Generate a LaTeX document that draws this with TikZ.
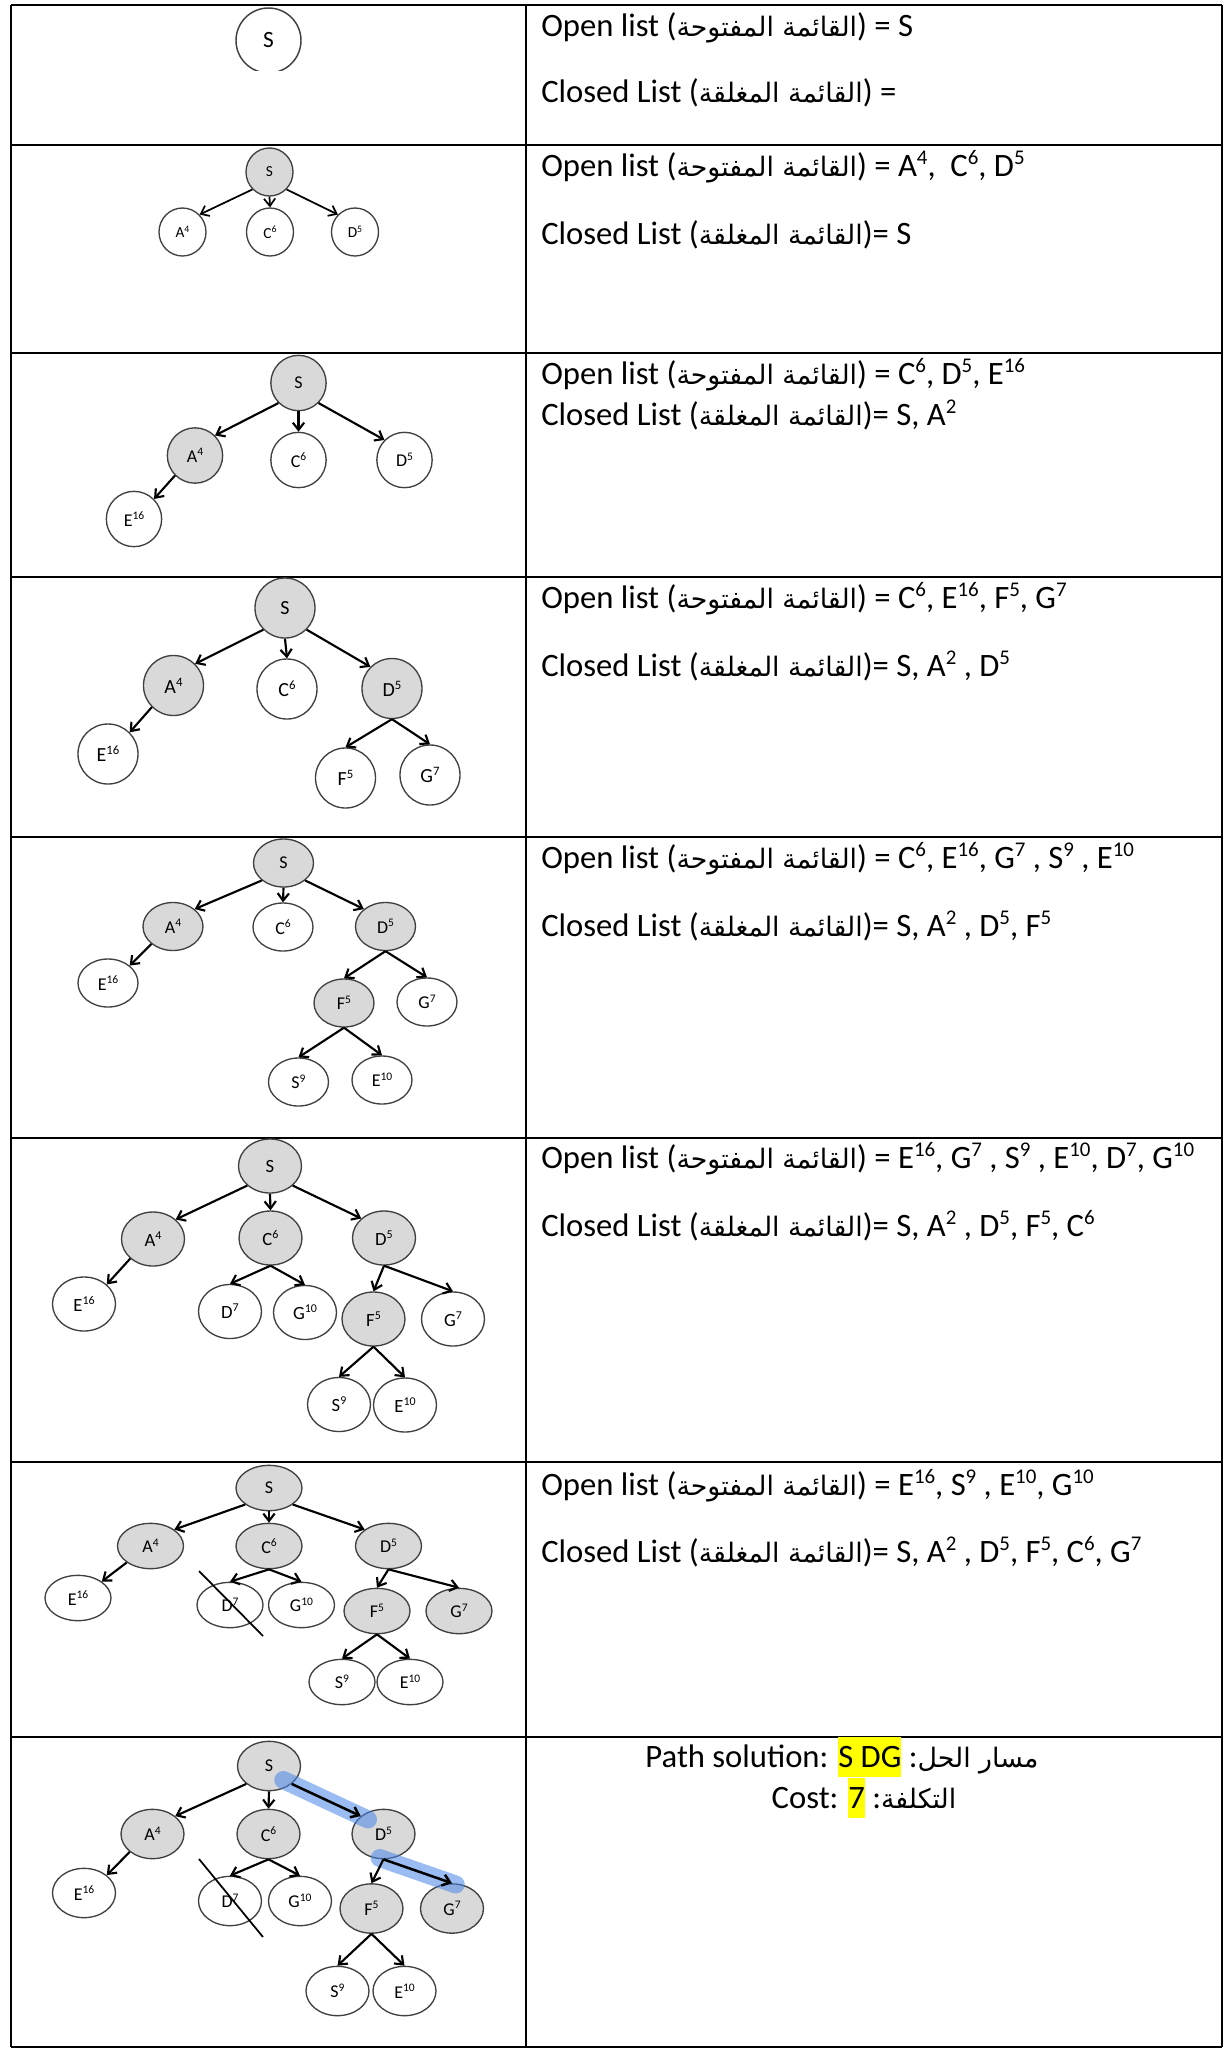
\documentclass[tikz,border=0pt]{standalone}
\usepackage{fontspec}
\usepackage{graphicx}
\setmainfont{Carlito}
\newfontfamily\arabicfont[Script=Arabic,Scale=0.82]{DejaVu Sans}
\TeXXeTstate=1
\usetikzlibrary{shapes.geometric,arrows.meta}
\definecolor{nodegray}{HTML}{D9D9D9}
\definecolor{nodeline}{HTML}{404040}
\definecolor{bandblue}{HTML}{4A86E8}
\definecolor{hlyellow}{HTML}{FFFF00}
\newcommand{\maintext}{\fontsize{24.5pt}{29pt}\selectfont}
\newcommand{\nf}[1]{\fontsize{#1}{#1}\selectfont}
\newcommand{\openlbl}{Open list ({\arabicfont\beginR القائمة المفتوحة\endR})}
\newcommand{\closedlbl}{Closed List ({\arabicfont\beginR القائمة المغلقة\endR})}
\newcommand{\hlbox}[1]{{\setlength{\fboxsep}{0pt}\colorbox{hlyellow}{\rule[-0.31em]{0pt}{1.24em}#1}}}
\newcommand{\sps}[1]{\raisebox{0.36em}{\scalebox{0.64}{#1}}}
\begin{document}
\begin{tikzpicture}[x=0.75pt,y=-0.75pt,
  nd/.style={ellipse,draw=nodeline,line width=1pt,inner sep=0pt,fill=white},
  gn/.style={nd,fill=nodegray},
  arr/.style={-{Straight Barb[length=5.5pt,width=8.5pt]},line width=1.6pt},
  txt/.style={anchor=base west,inner sep=0pt,font=\maintext},
  ctxt/.style={anchor=base,inner sep=0pt,font=\maintext},
  tbl/.style={line width=2pt},
  band/.style={line width=13.5pt,line cap=round,draw=bandblue,draw opacity=0.55},
  strikeline/.style={line width=1.3pt}]
\useasboundingbox (0,0) rectangle (1227,2053);
\fill[white] (0,0) rectangle (1227,2053);

% ---------- table ----------
\draw[line width=1.2pt] (11,5) -- (1222,5);
\foreach \yy in {145,353,577,837,1138,1462,1737,2047}
  \draw[tbl] (11,\yy) -- (1222,\yy);
\foreach \xx in {11,526,1222}
  \draw[tbl] (\xx,5) -- (\xx,2047);

% ---------- texts ----------
\node[txt] (o1) at (541,36) {\openlbl{} = S};
\node[txt] (c1) at (541,102) {\closedlbl{} =};
\node[txt] (o2) at (541,176) {\openlbl{} = A\sps{4},\hspace{0.45em}C\sps{6}, D\sps{5}};
\node[txt] (c2) at (541,244) {\closedlbl= S};
\node[txt] (o3) at (541,384) {\openlbl{} = C\sps{6}, D\sps{5}, E\sps{16}};
\node[txt] (c3) at (541,425) {\closedlbl= S, A\sps{2}};
\node[txt] (o4) at (541,608) {\openlbl{} = C\sps{6}, E\sps{16}, F\sps{5}, G\sps{7}};
\node[txt] (c4) at (541,676) {\closedlbl= S, A\sps{2} , D\sps{5}};
\node[txt] (o5) at (541,868) {\openlbl{} = C\sps{6}, E\sps{16}, G\sps{7} , S\sps{9} , E\sps{10}};
\node[txt] (c5) at (541,936) {\closedlbl= S, A\sps{2} , D\sps{5}, F\sps{5}};
\node[txt] (o6) at (541,1168) {\openlbl{} = E\sps{16}, G\sps{7} , S\sps{9} , E\sps{10}, D\sps{7}, G\sps{10}};
\node[txt] (c6) at (541,1236) {\closedlbl= S, A\sps{2} , D\sps{5}, F\sps{5}, C\sps{6}};
\node[txt] (o7) at (541,1495) {\openlbl{} = E\sps{16}, S\sps{9} , E\sps{10}, G\sps{10}};
\node[txt] (c7) at (541,1562) {\closedlbl= S, A\sps{2} , D\sps{5}, F\sps{5}, C\sps{6}, G\sps{7}};
\node[ctxt] (p8) at (842,1767) {Path solution: \hlbox{S DG} :{\arabicfont\beginR مسار الحل\endR}};
\node[ctxt] (k8) at (864,1808) {Cost: \hlbox{7} :{\arabicfont\beginR التكلفة\endR}};

% ---------- row 1 ----------
\begin{scope}
\clip (11,5) rectangle (301.5,70);
\node[nd,line width=1.1pt,minimum width=48.75pt,minimum height=48.75pt,font=\nf{17.5pt}] (r1S) at (268.5,40.5) {S};
\end{scope}

% ---------- row 2 ----------
\begin{scope}[nd/.append style={minimum width=35.25pt,minimum height=36pt,font=\nf{11.5pt}},arr/.append style={line width=1.3pt}]
\node[gn] (r2S) at (269.5,172) {S};
\node[nd] (r2A) at (182.5,232) {A\sps{4}};
\node[nd] (r2C) at (270,232) {C\sps{6}};
\node[nd] (r2D) at (355,232) {D\sps{5}};
\draw[arr] (r2S.south west) -- (r2A.north east);
\draw[arr] (r2S.south) -- (r2C.north);
\draw[arr] (r2S.south east) -- (r2D.north west);
\end{scope}

% ---------- row 3 ----------
\begin{scope}[nd/.append style={minimum width=41.5pt,minimum height=41.5pt,font=\nf{13.5pt}}]
\node[gn] (r3S) at (298.5,383) {S};
\node[gn] (r3A) at (195,455.5) {A\sps{4}};
\node[nd] (r3C) at (298.5,460) {C\sps{6}};
\node[nd] (r3D) at (404.5,460) {D\sps{5}};
\node[nd] (r3E) at (134,519) {E\sps{16}};
\draw[arr] (r3S.south west) -- (r3A.north east);
\draw[arr] (r3S.south) -- (r3C.north);
\draw[arr] (r3S.south east) -- (r3D.north west);
\draw[arr] (r3A.south west) -- (r3E.north east);
\end{scope}

% ---------- row 4 ----------
\begin{scope}[nd/.append style={minimum width=45pt,minimum height=45pt,font=\nf{15pt}}]
\node[gn] (r4S) at (285,608) {S};
\node[gn] (r4A) at (173.5,685.5) {A\sps{4}};
\node[nd] (r4C) at (287,689) {C\sps{6}};
\node[gn] (r4D) at (392,688.5) {D\sps{5}};
\node[nd] (r4E) at (108,754) {E\sps{16}};
\node[nd] (r4F) at (345.5,778) {F\sps{5}};
\node[nd] (r4G) at (430,775) {G\sps{7}};
\draw[arr] (r4S.south west) -- (r4A.north east);
\draw[arr] (r4S.south) -- (r4C.north);
\draw[arr] (r4S.south east) -- (r4D.north west);
\draw[arr] (r4A.south west) -- (r4E.north east);
\draw[arr] (r4D.south) -- (r4F.north);
\draw[arr] (r4D.south) -- (r4G.north);
\end{scope}

% ---------- row 5 ----------
\begin{scope}[nd/.append style={minimum width=45pt,minimum height=36pt,font=\nf{13.5pt}}]
\node[gn] (r5S) at (283.5,863) {S};
\node[gn] (r5A) at (173,926.5) {A\sps{4}};
\node[nd] (r5C) at (283,927) {C\sps{6}};
\node[gn] (r5D) at (385.5,926.5) {D\sps{5}};
\node[nd] (r5E) at (108,983) {E\sps{16}};
\node[gn] (r5F) at (344,1003) {F\sps{5}};
\node[nd] (r5G) at (427,1002) {G\sps{7}};
\node[nd] (r5S9) at (298.5,1082) {S\sps{9}};
\node[nd] (r5E10) at (382,1080) {E\sps{10}};
\draw[arr] (r5S.south west) -- (r5A.north east);
\draw[arr] (r5S.south) -- (r5C.north);
\draw[arr] (r5S.south east) -- (r5D.north west);
\draw[arr] (r5A.south west) -- (r5E.north east);
\draw[arr] (r5D.south) -- (r5F.north);
\draw[arr] (r5D.south) -- (r5G.north);
\draw[arr] (r5F.south) -- (r5S9.north);
\draw[arr] (r5F.south) -- (r5E10.north);
\end{scope}

% ---------- row 6 ----------
\begin{scope}[nd/.append style={minimum width=47.25pt,minimum height=40.5pt,font=\nf{14pt}}]
\node[gn] (r6S) at (270,1166) {S};
\node[gn] (r6A) at (153,1239) {A\sps{4}};
\node[gn] (r6C) at (270.5,1238) {C\sps{6}};
\node[gn] (r6D) at (384,1238) {D\sps{5}};
\node[nd] (r6E) at (84,1304) {E\sps{16}};
\node[nd] (r6D7) at (230,1311.5) {D\sps{7}};
\node[nd] (r6G10) at (305,1312.5) {G\sps{10}};
\node[gn] (r6F) at (373.5,1319) {F\sps{5}};
\node[nd] (r6G) at (453,1319) {G\sps{7}};
\node[nd] (r6S9) at (339,1404.5) {S\sps{9}};
\node[nd] (r6E10) at (405,1405) {E\sps{10}};
\draw[arr] (r6S.south west) -- (r6A.north east);
\draw[arr] (r6S.south) -- (r6C.north);
\draw[arr] (r6S.south east) -- (r6D.north west);
\draw[arr] (r6A.south west) -- (r6E.north east);
\draw[arr] (r6C.south) -- (r6D7.north);
\draw[arr] (r6C.south) -- (r6G10.north);
\draw[arr] (r6D.south) -- (r6F.north);
\draw[arr] (r6D.south) -- (r6G.north);
\draw[arr] (r6F.south) -- (r6S9.north);
\draw[arr] (r6F.south) -- (r6E10.north);
\end{scope}

% ---------- row 7 ----------
\begin{scope}[nd/.append style={minimum width=49.5pt,minimum height=34pt,font=\nf{13.5pt}}]
\node[gn] (r7S) at (269,1488) {S};
\node[gn] (r7A) at (150.5,1546) {A\sps{4}};
\node[gn] (r7C) at (269,1546) {C\sps{6}};
\node[gn] (r7D) at (388.5,1546) {D\sps{5}};
\node[nd] (r7E) at (78,1598) {E\sps{16}};
\node[nd] (r7D7) at (230,1605) {D\sps{7}};
\node[nd] (r7G10) at (301.5,1605) {G\sps{10}};
\node[gn] (r7F) at (377,1611) {F\sps{5}};
\node[gn] (r7G) at (459,1611) {G\sps{7}};
\node[nd] (r7S9) at (342,1682) {S\sps{9}};
\node[nd] (r7E10) at (410,1682) {E\sps{10}};
\draw[arr] (r7S.south west) -- (r7A.north east);
\draw[arr] (r7S.south) -- (r7C.north);
\draw[arr] (r7S.south east) -- (r7D.north west);
\draw[arr] (r7A.south west) -- (r7E.north east);
\draw[arr] (r7C.south) -- (r7D7.north);
\draw[arr] (r7C.south) -- (r7G10.north);
\draw[arr] (r7D.south) -- (r7F.north);
\draw[arr] (r7D.south) -- (r7G.north);
\draw[arr] (r7F.south) -- (r7S9.north);
\draw[arr] (r7F.south) -- (r7E10.north);
\coordinate (r7x1) at (199,1571);
\coordinate (r7x2) at (263,1636);
\draw[strikeline] (r7x1) -- (r7x2);
\end{scope}

% ---------- row 8 ----------
\begin{scope}[nd/.append style={minimum width=47.25pt,minimum height=37pt,font=\nf{13.5pt}}]
\node[gn] (r8S) at (269,1766) {S};
\node[gn] (r8A) at (152.5,1834) {A\sps{4}};
\node[gn] (r8C) at (268.5,1834) {C\sps{6}};
\node[gn] (r8D) at (383.5,1834) {D\sps{5}};
\node[nd] (r8E) at (84,1893) {E\sps{16}};
\node[nd] (r8D7) at (230,1901) {D\sps{7}};
\node[nd] (r8G10) at (300,1901) {G\sps{10}};
\node[gn] (r8F) at (371.5,1908.5) {F\sps{5}};
\node[gn] (r8G) at (452,1908.5) {G\sps{7}};
\node[nd] (r8S9) at (337.5,1991) {S\sps{9}};
\node[nd] (r8E10) at (404.5,1991) {E\sps{10}};
\draw[band,shorten <=-7pt,shorten >=-6pt] (r8S.south east) -- (r8D.north west);
\draw[band,shorten <=-3pt,shorten >=-3pt] (r8D.south) -- (r8G.north);
\draw[arr] (r8S.south west) -- (r8A.north east);
\draw[arr] (r8S.south) -- (r8C.north);
\draw[arr,line width=1.9pt] (r8S.south east) -- (r8D.north west);
\draw[arr] (r8A.south west) -- (r8E.north east);
\draw[arr] (r8C.south) -- (r8D7.north);
\draw[arr] (r8C.south) -- (r8G10.north);
\draw[arr] (r8D.south) -- (r8F.north);
\draw[arr,line width=1.9pt] (r8D.south) -- (r8G.north);
\draw[arr] (r8F.south) -- (r8S9.north);
\draw[arr] (r8F.south) -- (r8E10.north);
\coordinate (r8x1) at (199,1859);
\coordinate (r8x2) at (263,1937);
\draw[strikeline] (r8x1) -- (r8x2);
\end{scope}
\end{tikzpicture}
\end{document}
